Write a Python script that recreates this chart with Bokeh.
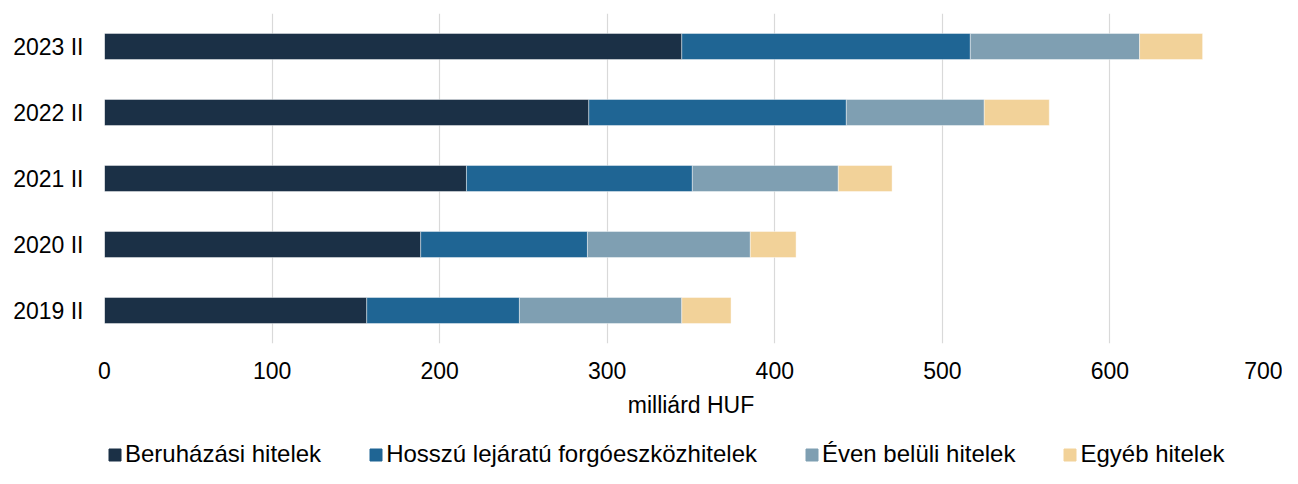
from bokeh.plotting import figure
from bokeh.layouts import column
from bokeh.models import ColumnDataSource, Legend, LegendItem, FactorRange, Range1d, FixedTicker
from bokeh.embed import file_html
from bokeh.resources import INLINE

categories = ["2019 II", "2020 II", "2021 II", "2022 II", "2023 II"]
beruhazasi = [156.5, 188.7, 216.0, 289.0, 344.5]
hosszu = [91.1, 99.5, 134.8, 153.7, 172.2]
even_beluli = [96.9, 97.2, 87.1, 82.3, 101.0]
egyeb = [29.4, 27.3, 32.1, 38.8, 37.6]
series_names = ["Beruházási hitelek", "Hosszú lejáratú forgóeszközhitelek",
                "Éven belüli hitelek", "Egyéb hitelek"]
x_ticks = [0, 100, 200, 300, 400, 500, 600, 700]
x_label = "milliárd HUF"

colors = ["#1b3046", "#1f6594", "#7f9fb2", "#f2d299"]
keys = ["b", "h", "e", "g"]

source = ColumnDataSource(dict(cat=categories, b=beruhazasi, h=hosszu, e=even_beluli, g=egyeb))

FONT = "Liberation Sans"
W = 1282

p = figure(width=W, height=430, output_backend="svg", toolbar_location=None,
           y_range=FactorRange(factors=categories), x_range=Range1d(0, 700),
           min_border_left=104, min_border_right=5, min_border_top=13, min_border_bottom=87)
p.outline_line_color = None
p.background_fill_color = "white"
p.border_fill_color = "white"

renderers = p.hbar_stack(keys, y="cat", height=0.394, color=colors, source=source,
                         line_color="white", line_width=0.6, line_alpha=0.7)

p.xaxis.ticker = FixedTicker(ticks=x_ticks)
p.xgrid.ticker = FixedTicker(ticks=x_ticks)
p.xgrid.grid_line_color = "#d9d9d9"
p.xgrid.grid_line_width = 1.2
p.ygrid.grid_line_color = None

for ax in (p.xaxis[0], p.yaxis[0]):
    ax.axis_line_color = None
    ax.major_tick_line_color = None
    ax.minor_tick_line_color = None
    ax.major_tick_out = 0
    ax.major_tick_in = 0
    ax.major_label_text_font = FONT
    ax.major_label_text_font_size = "23px"
    ax.major_label_text_color = "#000000"

p.xaxis.major_label_standoff = 18
p.yaxis.major_label_standoff = 21
p.xaxis.axis_label = x_label
p.xaxis.axis_label_text_font = FONT
p.xaxis.axis_label_text_font_size = "23px"
p.xaxis.axis_label_text_font_style = "normal"
p.xaxis.axis_label_text_color = "#000000"
p.xaxis.axis_label_standoff = 10

# legend strip below the chart (proxy swatches lie outside the visible range)
pl = figure(width=W, height=38, output_backend="svg", toolbar_location=None,
            x_range=Range1d(0, 1), y_range=Range1d(0, 1),
            x_axis_location=None, y_axis_location=None,
            min_border_left=0, min_border_right=0, min_border_top=0, min_border_bottom=0)
pl.grid.visible = False
pl.outline_line_color = None
pl.background_fill_color = "white"
pl.border_fill_color = "white"

swatches = []
for c in colors:
    swatches.append(pl.hbar(y=[-5], left=[0], right=[1], height=0.5, color=c))

items = [LegendItem(label=n, renderers=[r]) for n, r in zip(series_names, swatches)]
legend = Legend(items=items, orientation="horizontal", location=(3, 0),
                glyph_width=15, glyph_height=15, label_standoff=3, spacing=47,
                padding=0, margin=0, border_line_color=None, background_fill_alpha=0,
                label_text_font=FONT, label_text_font_size="24px", label_text_color="#000000")
pl.add_layout(legend, "center")

layout = column(p, pl, spacing=0)
open("out.html", "w").write(file_html(layout, INLINE))
